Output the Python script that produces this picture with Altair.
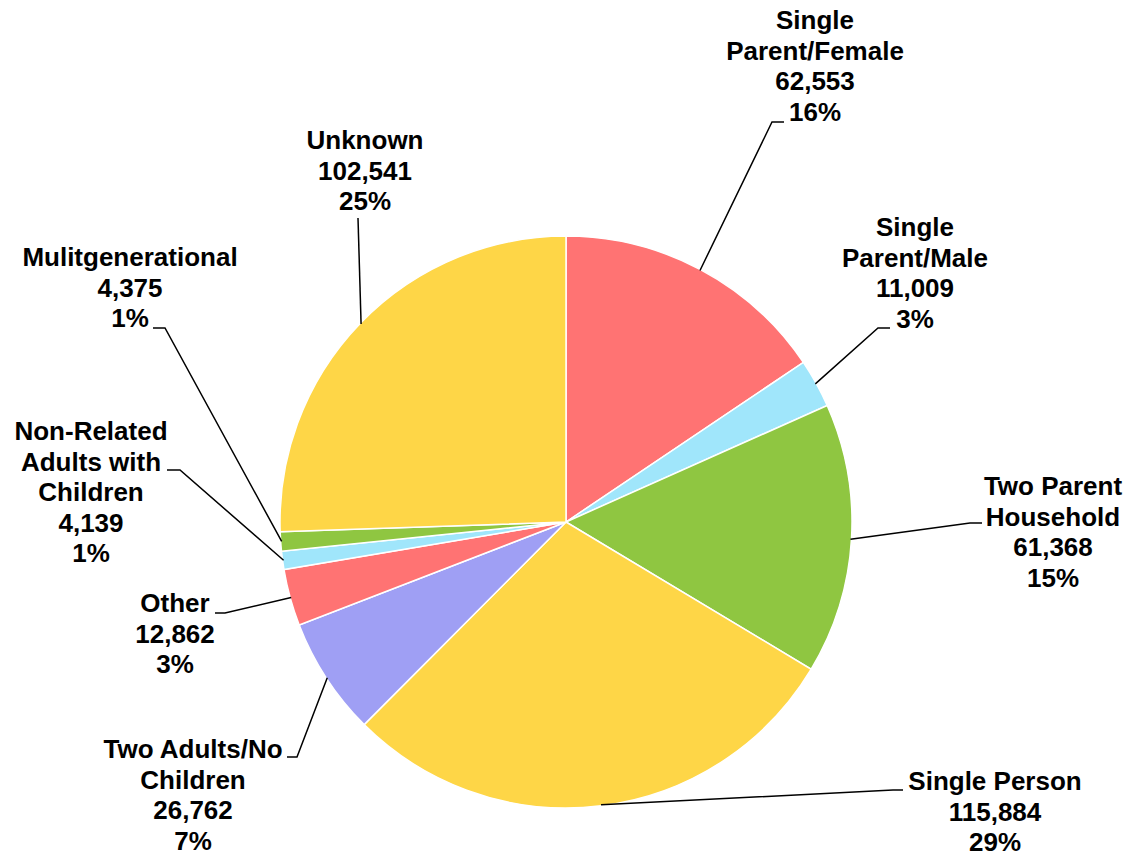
import math
import altair as alt
import pandas as pd

# ---- data ----
categories = ["Single Parent/Female", "Single Parent/Male", "Two Parent Household",
              "Single Person", "Two Adults/No Children", "Other",
              "Non-Related Adults with Children", "Mulitgenerational", "Unknown"]
label_names = [["Single", "Parent/Female"], ["Single", "Parent/Male"], ["Two Parent", "Household"],
               ["Single Person"], ["Two Adults/No", "Children"], ["Other"],
               ["Non-Related", "Adults with", "Children"], ["Mulitgenerational"], ["Unknown"]]
values = [62553, 11009, 61368, 115884, 26762, 12862, 4139, 4375, 102541]
pct_labels = ["16%", "3%", "15%", "29%", "7%", "3%", "1%", "1%", "25%"]
colors = ["#FF7373", "#A0E6FB", "#8FC641", "#FED647", "#9F9FF4",
          "#FF7373", "#A0E6FB", "#8FC641", "#FED647"]

# ---- layout (page pixel space) ----
CX, CY, R = 566, 522, 286
label_x = [815, 915, 1053, 995, 193, 175, 91, 130, 365]
label_y0 = [21, 228, 487, 782, 750, 604, 432, 258, 141]
LINE_H = 30.5
elbow = [(772, 122), (878, 328), (970, 523), (893, 790), (297, 757),
         (225, 613), (180, 470), (165, 328), (358, 218)]
tail = [(784, 122), (890, 328), (982, 523), (903, 790), (287, 757),
        (215, 613), (167, 470), (153, 328), (358, 218)]

total = sum(values)
pie_df = pd.DataFrame({"cat": categories, "value": values, "order": list(range(len(values)))})

# leader lines: start at slice mid-angle on the rim
line_rows = []
cum = 0
for i, v in enumerate(values):
    mid = (cum + v / 2) / total * 2 * math.pi
    cum += v
    ex = CX + (R - 1) * math.sin(mid)
    ey = CY - (R - 1) * math.cos(mid)
    pts = [(ex, ey), elbow[i], tail[i]]
    for k, (px, py) in enumerate(pts):
        line_rows.append({"cat": categories[i], "k": k, "x": px, "y": py})
line_df = pd.DataFrame(line_rows)

text_rows = []
for i in range(len(values)):
    lines = label_names[i] + [f"{values[i]:,}", pct_labels[i]]
    for j, t in enumerate(lines):
        text_rows.append({"cat": categories[i], "t": t, "x": label_x[i], "y": label_y0[i] + j * LINE_H})
text_df = pd.DataFrame(text_rows)

W, H = 1117, 847
xs = alt.Scale(domain=[8, 8 + W], range=[0, W])
ys = alt.Scale(domain=[8, 8 + H], range=[0, H])

pie = alt.Chart(pie_df).mark_arc(radius=R, stroke="white", strokeWidth=1.5).encode(
    theta=alt.Theta("value:Q", stack=True),
    order=alt.Order("order:Q"),
    color=alt.Color("order:N", scale=alt.Scale(domain=list(range(len(values))), range=colors), legend=None),
    x=alt.X(datum=CX, type="quantitative", scale=xs, axis=None),
    y=alt.Y(datum=CY, type="quantitative", scale=ys, axis=None),
)

leaders = alt.Chart(line_df).mark_line(color="black", strokeWidth=1.5).encode(
    x=alt.X("x:Q", scale=xs, axis=None),
    y=alt.Y("y:Q", scale=ys, axis=None),
    detail="cat:N",
    order="k:Q",
)

labels = alt.Chart(text_df).mark_text(
    font="Liberation Sans", fontWeight="bold", fontSize=26, color="black",
    align="center", baseline="middle",
).encode(
    x=alt.X("x:Q", scale=xs, axis=None),
    y=alt.Y("y:Q", scale=ys, axis=None),
    text="t:N",
)

chart = alt.layer(pie, leaders, labels).properties(
    width=W, height=H, padding=0, autosize="none"
).configure_view(stroke=None)

chart.save("out.html", embed_options={"renderer": "svg", "actions": False})
